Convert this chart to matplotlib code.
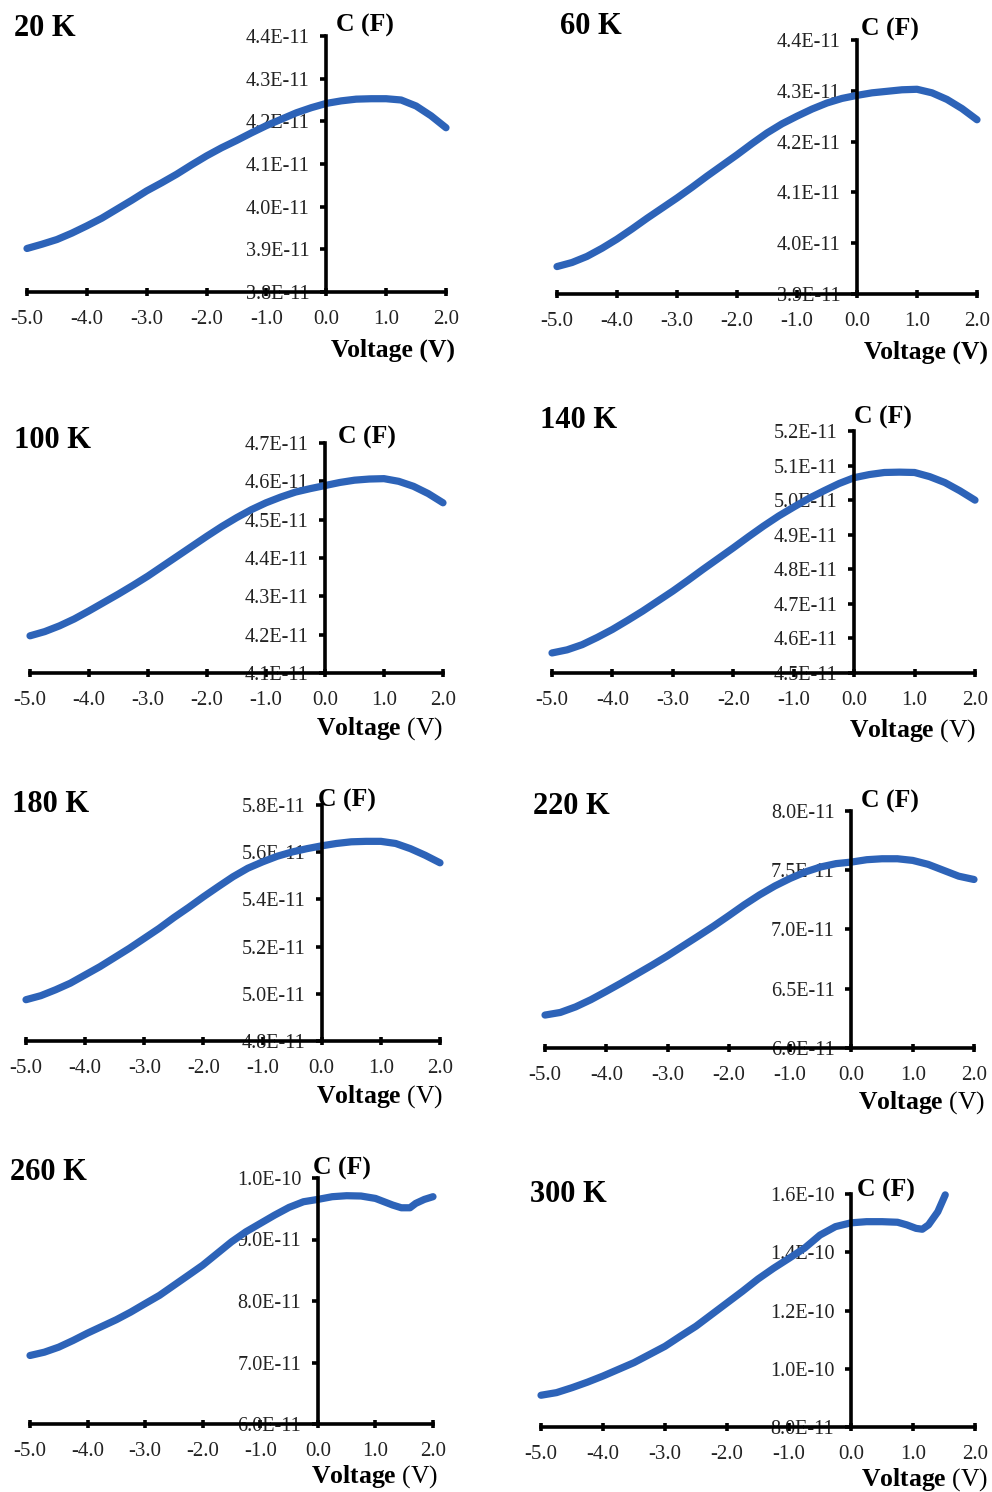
import matplotlib
matplotlib.use("Agg")
import matplotlib.pyplot as plt
from matplotlib.ticker import FuncFormatter, FixedLocator

plt.rcParams["font.family"] = ["Liberation Serif", "DejaVu Serif"]
plt.rcParams["mathtext.fontset"] = "custom"
plt.rcParams["mathtext.rm"] = "Liberation Serif"
plt.rcParams["mathtext.bf"] = "Liberation Serif:bold"

W, H = 992, 1492
LINE_COLOR = "#2d63b8"

# ---- C-V data, one curve per temperature ----
temps = ["20 K", "60 K", "100 K", "140 K", "180 K", "220 K", "260 K", "300 K"]

v_std = [-5, -4.75, -4.5, -4.25, -4, -3.75, -3.5, -3.25, -3, -2.75, -2.5, -2.25, -2, -1.75,
         -1.5, -1.25, -1, -0.75, -0.5, -0.25, 0, 0.25, 0.5, 0.75, 1, 1.25, 1.5, 1.75, 2]

v_20 = v_std
c_20 = [3.902, 3.912, 3.923, 3.938, 3.955, 3.973, 3.994, 4.015, 4.037, 4.056, 4.076, 4.098,
        4.119, 4.138, 4.155, 4.173, 4.190, 4.205, 4.220, 4.232, 4.242, 4.248, 4.252, 4.253,
        4.253, 4.250, 4.236, 4.213, 4.185]

v_60 = v_std
c_60 = [3.954, 3.962, 3.974, 3.990, 4.008, 4.028, 4.049, 4.069, 4.089, 4.110, 4.132, 4.153,
        4.174, 4.196, 4.217, 4.235, 4.250, 4.264, 4.276, 4.285, 4.291, 4.296, 4.299, 4.302,
        4.303, 4.296, 4.283, 4.265, 4.243]

v_100 = v_std
c_100 = [4.197, 4.208, 4.223, 4.241, 4.262, 4.284, 4.306, 4.329, 4.353, 4.379, 4.405, 4.431,
         4.457, 4.482, 4.505, 4.526, 4.544, 4.559, 4.572, 4.581, 4.589, 4.597, 4.603, 4.606,
         4.607, 4.600, 4.587, 4.568, 4.544]

v_140 = v_std
c_140 = [4.558, 4.567, 4.582, 4.603, 4.626, 4.652, 4.679, 4.708, 4.737, 4.768, 4.800, 4.831,
         4.862, 4.894, 4.925, 4.954, 4.980, 5.005, 5.027, 5.048, 5.065, 5.074, 5.080, 5.081,
         5.080, 5.068, 5.051, 5.027, 5.000]

v_180 = v_std
c_180 = [4.975, 4.992, 5.017, 5.045, 5.080, 5.115, 5.154, 5.193, 5.235, 5.277, 5.323, 5.366,
         5.411, 5.454, 5.496, 5.532, 5.559, 5.583, 5.601, 5.615, 5.627, 5.637, 5.644, 5.646,
         5.646, 5.637, 5.615, 5.587, 5.555]

v_220 = v_std
c_220 = [6.278, 6.300, 6.347, 6.408, 6.478, 6.550, 6.625, 6.700, 6.778, 6.861, 6.944, 7.028,
         7.117, 7.208, 7.292, 7.367, 7.431, 7.486, 7.528, 7.556, 7.569, 7.589, 7.597, 7.597,
         7.583, 7.550, 7.500, 7.450, 7.422]

v_260 = [-5, -4.75, -4.5, -4.25, -4, -3.75, -3.5, -3.25, -3, -2.75, -2.5, -2.25, -2, -1.75,
         -1.5, -1.25, -1, -0.75, -0.5, -0.25, 0, 0.25, 0.5, 0.75, 1, 1.15, 1.3, 1.45, 1.6,
         1.7, 1.85, 2]
c_260 = [7.114, 7.168, 7.250, 7.359, 7.478, 7.587, 7.696, 7.820, 7.957, 8.092, 8.255, 8.418,
         8.582, 8.772, 8.962, 9.125, 9.261, 9.397, 9.522, 9.614, 9.652, 9.696, 9.712, 9.707,
         9.668, 9.614, 9.560, 9.516, 9.516, 9.587, 9.652, 9.696]

v_300 = [-5, -4.75, -4.5, -4.25, -4, -3.75, -3.5, -3.25, -3, -2.75, -2.5, -2.25, -2, -1.75,
         -1.5, -1.25, -1, -0.75, -0.5, -0.25, 0, 0.25, 0.5, 0.75, 0.9, 1.05, 1.15, 1.25, 1.4,
         1.52]
c_300 = [9.09, 9.18, 9.35, 9.54, 9.75, 9.98, 10.21, 10.49, 10.77, 11.12, 11.46, 11.86,
         12.26, 12.66, 13.08, 13.45, 13.79, 14.14, 14.59, 14.88, 15.01, 15.05, 15.05, 15.03,
         14.94, 14.82, 14.79, 14.94, 15.39, 15.97]

voltages = [v_20, v_60, v_100, v_140, v_180, v_220, v_260, v_300]
# capacitance lists above are in units of 1E-11 F
capacitances = [[c * 1e-11 for c in s] for s in
                [c_20, c_60, c_100, c_140, c_180, c_220, c_260, c_300]]

x_ticks = [-5.0, -4.0, -3.0, -2.0, -1.0, 0.0, 1.0, 2.0]
y_ticks = [
    [3.8e-11, 3.9e-11, 4.0e-11, 4.1e-11, 4.2e-11, 4.3e-11, 4.4e-11],
    [3.9e-11, 4.0e-11, 4.1e-11, 4.2e-11, 4.3e-11, 4.4e-11],
    [4.1e-11, 4.2e-11, 4.3e-11, 4.4e-11, 4.5e-11, 4.6e-11, 4.7e-11],
    [4.5e-11, 4.6e-11, 4.7e-11, 4.8e-11, 4.9e-11, 5.0e-11, 5.1e-11, 5.2e-11],
    [4.8e-11, 5.0e-11, 5.2e-11, 5.4e-11, 5.6e-11, 5.8e-11],
    [6.0e-11, 6.5e-11, 7.0e-11, 7.5e-11, 8.0e-11],
    [6.0e-11, 7.0e-11, 8.0e-11, 9.0e-11, 1.0e-10],
    [8.0e-11, 1.0e-10, 1.2e-10, 1.4e-10, 1.6e-10],
]

# ---- panel placement in pixels: (left, right, top, bottom) of the plotting box ----
boxes = [
    (27, 446, 36, 292), (557, 977, 40, 294),
    (30, 443, 443, 673), (552, 975, 431, 673),
    (26, 440, 805, 1041), (545, 974, 811, 1048),
    (30, 433, 1178, 1424), (541, 975, 1194, 1427),
]
title_pos = [(14, 28), (560, 26), (14, 440), (540, 421), (12, 805), (533, 806), (10, 1173), (530, 1194)]
clabel_pos = [(336, 25), (861, 29), (338, 437), (854, 417), (318, 800), (861, 801), (313, 1168), (857, 1190)]
vlabel_pos = [(455, 350), (988, 352), (443, 729), (976, 731), (443, 1097), (985, 1103), (438, 1477), (988, 1480)]
vlabel_bold_unit = [True, True, False, False, False, False, False, False]

fig = plt.figure(figsize=(W / 100, H / 100), dpi=100)
fig.patch.set_facecolor("white")


def fx(px):
    return px / W


def fy(py):
    return 1 - py / H


fmt_x = FuncFormatter(lambda v, _: f"{v:.1f}")
fmt_y = FuncFormatter(lambda v, _: f"{v:.1E}")

for i in range(8):
    l, r, t, b = boxes[i]
    ax = fig.add_axes([fx(l), fy(b), (r - l) / W, (b - t) / H])
    ax.plot(voltages[i], capacitances[i], color=LINE_COLOR, lw=5.2,
            solid_capstyle="round", solid_joinstyle="round", clip_on=False, zorder=3)
    ax.set_xlim(-5, 2)
    ax.set_ylim(y_ticks[i][0], y_ticks[i][-1])
    ax.set_facecolor("none")

    for s in ("top", "right"):
        ax.spines[s].set_visible(False)
    ax.spines["left"].set_position(("data", 0))
    ax.spines["left"].set_linewidth(2.6)
    ax.spines["bottom"].set_linewidth(2.6)
    ax.spines["left"].set_zorder(4)
    ax.spines["bottom"].set_zorder(4)

    ax.xaxis.set_major_locator(FixedLocator(x_ticks))
    ax.xaxis.set_major_formatter(fmt_x)
    ax.yaxis.set_major_locator(FixedLocator(y_ticks[i]))
    ax.yaxis.set_major_formatter(fmt_y)
    ax.tick_params(axis="x", direction="inout", length=6, width=2.6, pad=10,
                   labelsize=15, colors="black")
    ax.tick_params(axis="y", direction="out", length=4, width=2.6, pad=8,
                   labelsize=14.5, colors="black")
    for lab in ax.get_xticklabels() + ax.get_yticklabels():
        lab.set_color("#222222")

    tx, ty = title_pos[i]
    fig.text(fx(tx), fy(ty), temps[i], fontsize=22, fontweight="bold",
             ha="left", va="center")
    cx, cy = clabel_pos[i]
    fig.text(fx(cx), fy(cy), "C (F)", fontsize=18.5, fontweight="bold",
             ha="left", va="center")
    vx, vy = vlabel_pos[i]
    if vlabel_bold_unit[i]:
        fig.text(fx(vx), fy(vy), "Voltage (V)", fontsize=18.5, fontweight="bold",
                 ha="right", va="center")
    else:
        fig.text(fx(vx), fy(vy), r"$\mathbf{Voltage}$ (V)", fontsize=18.5,
                 ha="right", va="center")

fig.savefig("out.png", dpi=100, facecolor="white")
